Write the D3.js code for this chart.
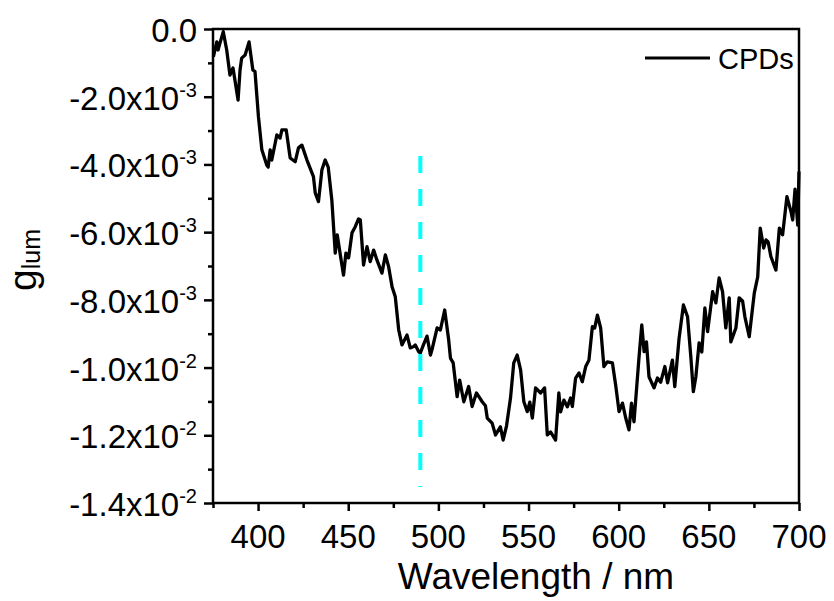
<!DOCTYPE html>
<html>
<head>
<meta charset="utf-8">
<script src="https://cdn.jsdelivr.net/npm/d3@7"></script>
<style>
html,body{margin:0;padding:0;background:#fff;}
svg text{font-family:"Liberation Sans",Arial,sans-serif;fill:#000;}
</style>
</head>
<body>
<svg id="chart" width="834" height="601"></svg>
<script>
// wavelength (nm)
const wavelength = [375.2,377.1,377.8,378.9,380.7,382.6,384.4,386.1,388.9,390.0,390.9,392.8,395.0,397.1,398.3,400.2,402.1,404.8,405.6,406.7,407.6,410.4,412.2,413.2,415.6,417.8,420.6,422.4,424.3,427.1,430.7,431.7,433.5,435.4,437.2,438.9,440.9,442.8,443.9,445.6,447.4,448.7,450.2,452.1,453.9,455.7,456.7,458.5,460.4,462.2,464.1,465.9,468.7,470.6,472.4,474.3,476.1,478.0,479.8,482.6,484.4,486.3,487.2,489.1,490.0,491.7,493.7,495.6,496.7,499.3,501.1,503.5,505.7,506.7,508.2,510.4,511.8,514.1,516.8,518.7,521.1,524.3,526.1,527.1,529.8,531.7,534.4,535.9,537.8,540.0,541.8,543.7,545.6,547.4,549.3,550.7,552.1,553.9,556.7,558.9,560.4,562.2,565.0,566.8,567.8,569.6,571.5,573.3,574.3,576.1,578.0,579.8,581.7,583.5,585.4,586.7,588.2,590.0,591.8,593.7,596.5,598.3,600.2,602.1,603.9,605.7,607.1,608.5,611.3,612.8,614.1,615.4,616.8,619.6,621.5,623.3,625.6,627.1,629.8,631.1,633.5,635.9,638.2,640.0,641.4,642.8,644.6,646.1,647.8,649.3,652.1,653.9,655.7,657.6,659.4,661.3,662.2,665.0,666.8,668.7,670.0,672.4,675.2,677.1,678.5,680.4,681.7,682.9,684.4,687.2,689.1,690.9,693.3,695.6,696.5,697.8,699.3,700.0];
// g_lum in units of 10^-3
const gLum = [-0.82,-0.38,-0.62,-0.41,-0.08,-0.62,-1.36,-1.15,-2.10,-1.21,-0.86,-0.77,-0.38,-1.21,-1.26,-2.59,-3.57,-4.02,-4.08,-3.57,-3.87,-3.13,-3.22,-2.98,-2.98,-3.81,-3.92,-3.51,-3.43,-3.87,-4.36,-4.84,-5.10,-4.16,-3.87,-4.08,-5.05,-6.62,-6.08,-6.67,-7.27,-6.62,-6.76,-6.02,-5.84,-5.61,-5.64,-6.97,-6.43,-6.87,-6.53,-6.82,-7.21,-6.67,-7.02,-7.61,-7.91,-8.89,-9.33,-9.04,-9.42,-9.38,-9.33,-9.53,-9.57,-9.33,-9.07,-9.63,-9.42,-8.83,-8.89,-8.30,-9.18,-9.72,-9.86,-10.86,-10.37,-11.01,-10.56,-11.15,-10.75,-11.01,-11.13,-11.49,-11.64,-11.99,-11.75,-12.14,-11.72,-10.90,-9.86,-9.63,-10.07,-11.01,-11.30,-11.02,-11.49,-10.60,-10.75,-10.60,-11.99,-11.90,-12.14,-10.75,-11.31,-10.96,-11.16,-10.90,-11.15,-10.31,-10.16,-10.42,-9.97,-9.78,-8.79,-8.83,-8.45,-8.83,-9.97,-9.83,-9.86,-10.51,-11.30,-11.05,-11.49,-11.84,-11.05,-11.60,-9.68,-8.74,-9.53,-9.24,-10.27,-10.60,-10.31,-10.43,-9.97,-10.45,-9.78,-10.56,-9.13,-8.15,-8.50,-9.68,-10.71,-10.27,-9.27,-9.54,-8.24,-8.94,-7.76,-8.09,-7.35,-7.76,-8.83,-7.94,-9.24,-8.83,-7.94,-8.03,-8.50,-9.09,-7.80,-7.32,-5.88,-6.47,-6.23,-6.29,-6.72,-7.12,-5.88,-6.08,-4.95,-5.40,-5.64,-4.73,-5.79,-4.21];
const seriesName = "CPDs";
const xMajorTicks = [400,450,500,550,600,650,700];
const xMinorTicks = [375,425,475,525,575,625,675];
const yMajorTicks = [0,-2,-4,-6,-8,-10,-12,-14];      // ×10^-3
const yMinorTicks = [-1,-3,-5,-7,-9,-11,-13];
const markerWavelength = [490, 490];
const markerG = [-3.75, -13.53];
const xTitle = "Wavelength / nm";

const svg = d3.select("#chart");
const L = 213, R = 799, T = 29, B = 503;
const x = d3.scaleLinear().domain([375,700]).range([L,R]);
const y = d3.scaleLinear().domain([-14,0]).range([B,T]);

// data line
const pts = wavelength.map((w,i)=>[w,gLum[i]]);
svg.append("path").datum(pts)
  .attr("fill","none").attr("stroke","#000").attr("stroke-width",3.3)
  .attr("stroke-linejoin","round")
  .attr("d", d3.line().x(d=>x(d[0])).y(d=>y(d[1])));

// cyan dashed marker
svg.append("line")
  .attr("x1",x(markerWavelength[0])).attr("x2",x(markerWavelength[1]))
  .attr("y1",y(markerG[0])).attr("y2",y(markerG[1]))
  .attr("stroke","#00ffff").attr("stroke-width",4)
  .attr("stroke-dasharray","17,16");

// frame
svg.append("rect").attr("x",L).attr("y",T).attr("width",R-L).attr("height",B-T)
  .attr("fill","none").attr("stroke","#000").attr("stroke-width",2.5);

// x axis ticks
const gx = svg.append("g").attr("transform",`translate(0,${B})`);
gx.call(d3.axisBottom(x).tickValues(xMajorTicks).tickSize(8).tickFormat(""));
gx.append("g").call(d3.axisBottom(x).tickValues(xMinorTicks).tickSize(5).tickFormat(""));
gx.selectAll(".domain").remove();
gx.selectAll("line").attr("stroke","#000").attr("stroke-width",2.5);
gx.selectAll(".xl").data(xMajorTicks).enter().append("text")
  .attr("x",d=>x(d)).attr("y",45).attr("text-anchor","middle")
  .attr("font-size",33).text(d=>d);

// y axis ticks
const gy = svg.append("g").attr("transform",`translate(${L},0)`);
gy.call(d3.axisLeft(y).tickValues(yMajorTicks).tickSize(9).tickFormat(""));
gy.append("g").call(d3.axisLeft(y).tickValues(yMinorTicks).tickSize(5).tickFormat(""));
gy.selectAll(".domain").remove();
gy.selectAll("line").attr("stroke","#000").attr("stroke-width",2.5);

function fmt(v){
  if (v === 0) return {m:"0.0", e:null};
  const val = v*1e-3;
  const e = Math.floor(Math.log10(Math.abs(val)) + 1e-9);
  const m = (val/Math.pow(10,e)).toFixed(1);
  return {m: m+"x10", e: String(e)};
}
yMajorTicks.forEach(v=>{
  const f = fmt(v);
  const t = svg.append("text").attr("x",197).attr("y",y(v)+13)
    .attr("text-anchor","end").attr("font-size",33);
  t.append("tspan").text(f.m);
  if (f.e) t.append("tspan").attr("font-size",20).attr("dy",-13).text(f.e);
});

// x title
svg.append("text").attr("x",536).attr("y",589).attr("text-anchor","middle")
  .attr("font-size",37).text(xTitle);

// y title
const yt = svg.append("text").attr("transform","translate(36,291) rotate(-90)")
  .attr("font-size",39);
yt.append("tspan").text("g");
yt.append("tspan").attr("font-size",25).attr("dy",4).text("lum");

// legend
svg.append("line").attr("x1",645).attr("x2",710).attr("y1",58).attr("y2",58)
  .attr("stroke","#000").attr("stroke-width",3);
svg.append("text").attr("x",718).attr("y",69).attr("font-size",29).text(seriesName);
</script>
</body>
</html>
